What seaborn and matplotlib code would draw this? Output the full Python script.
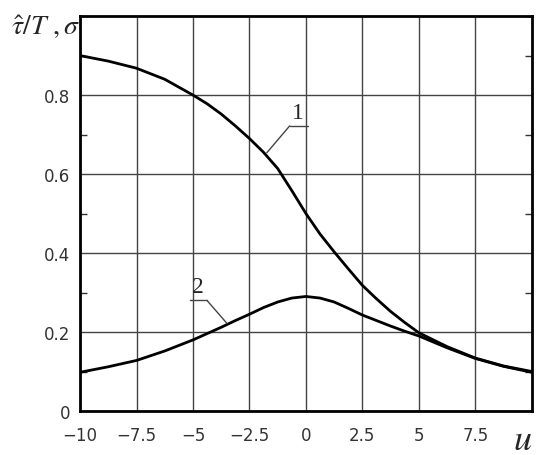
import matplotlib
matplotlib.use("Agg")
import matplotlib.pyplot as plt
import seaborn as sns
import pandas as pd
from matplotlib.ticker import MultipleLocator

# values
u = [-10, -8.75, -7.5, -6.25, -5, -4.375, -3.75, -3.125, -2.5, -1.875, -1.25,
     -0.625, 0, 0.625, 1.25, 1.875, 2.5, 3.125, 3.75, 4.375, 5, 6.25, 7.5,
     8.75, 10]
curve1 = [0.900, 0.886, 0.868, 0.840, 0.800, 0.778, 0.752, 0.722, 0.690,
          0.655, 0.614, 0.558, 0.500, 0.448, 0.403, 0.360, 0.318, 0.284,
          0.252, 0.224, 0.198, 0.163, 0.134, 0.114, 0.100]
curve2 = [0.098, 0.112, 0.128, 0.152, 0.180, 0.196, 0.212, 0.229, 0.245,
          0.262, 0.276, 0.286, 0.290, 0.286, 0.276, 0.260, 0.243, 0.229,
          0.215, 0.202, 0.190, 0.160, 0.133, 0.113, 0.098]
x_ticks = [-10, -7.5, -5, -2.5, 0, 2.5, 5, 7.5]
x_tick_labels = ["\u221210", "\u22127.5", "\u22125", "\u22122.5", "0", "2.5", "5", "7.5"]
y_ticks = [0, 0.2, 0.4, 0.6, 0.8]
y_tick_labels = ["0", "0.2", "0.4", "0.6", "0.8"]

df = pd.DataFrame({"u": u * 2,
                   "val": curve1 + curve2,
                   "curve": ["1"] * len(u) + ["2"] * len(u)})

sns.set_style("white")
plt.rcParams["font.family"] = ["DejaVu Sans"]
plt.rcParams["mathtext.fontset"] = "stix"

fig = plt.figure(figsize=(5.5, 4.56), dpi=100)
ax = fig.add_axes([0.1455, 0.0965, 0.8215, 0.866])

sns.lineplot(data=df, x="u", y="val", hue="curve", palette=["black", "black"],
             linewidth=2.0, legend=False, ax=ax)

ax.set_xlim(-10, 10)
ax.set_ylim(0, 1.0)
ax.set_xticks(x_ticks)
ax.set_xticklabels(x_tick_labels)
ax.set_yticks(y_ticks)
ax.set_yticklabels(y_tick_labels)
ax.yaxis.set_minor_locator(MultipleLocator(0.1))
ax.grid(True, which="major", color="#444444", linewidth=1.0)
ax.set_axisbelow(True)
ax.tick_params(axis="both", which="major", length=0, labelsize=12,
               labelcolor="#333333")
ax.tick_params(axis="x", which="major", pad=11)
ax.tick_params(axis="y", which="major", pad=7)
ax.tick_params(axis="y", which="minor", direction="in", length=5,
               width=1, left=True, right=True, color="#333333")
for side in ["left", "right", "top", "bottom"]:
    ax.spines[side].set_color("black")
    ax.spines[side].set_linewidth(2.0)
ax.set_xlabel("")
ax.set_ylabel("")

# axis captions
fig.text(0.02, 0.94, r"$\hat{\tau}/T\ ,\sigma$", fontsize=20, ha="left", va="center")
fig.text(0.95, 0.035, r"$u$", fontsize=26, ha="center", va="center")

# curve labels with leaders
ax.text(-0.35, 0.755, "1", fontsize=17, ha="center", va="center", family="Liberation Serif")
ax.plot([-0.72, 0.08], [0.722, 0.722], color="#444444", lw=1)
ax.plot([-0.72, -1.73], [0.722, 0.654], color="#444444", lw=1)
ax.text(-4.78, 0.316, "2", fontsize=17, ha="center", va="center", family="Liberation Serif")
ax.plot([-5.13, -4.38], [0.28, 0.28], color="#444444", lw=1)
ax.plot([-4.38, -3.5], [0.28, 0.222], color="#444444", lw=1)

fig.savefig("out.png", dpi=100)
